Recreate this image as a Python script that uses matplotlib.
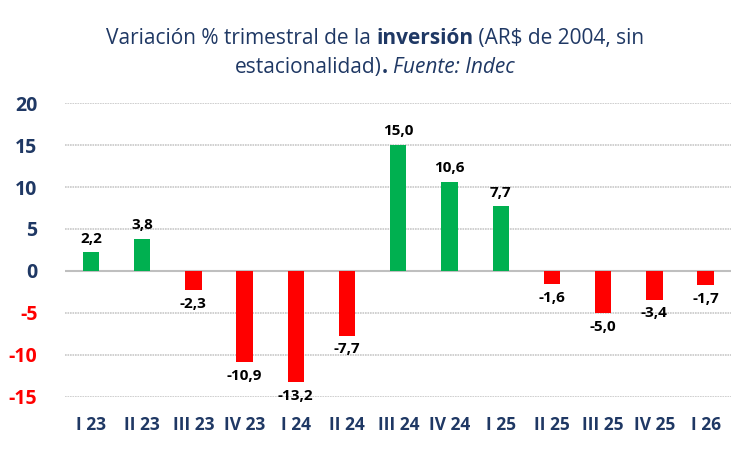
import matplotlib.pyplot as plt

quarters = ["I 23", "II 23", "III 23", "IV 23", "I 24", "II 24", "III 24",
            "IV 24", "I 25", "II 25", "III 25", "IV 25", "I 26"]
variation = [2.2, 3.8, -2.3, -10.9, -13.2, -7.7, 15.0, 10.6, 7.7, -1.6, -5.0, -3.4, -1.7]
yticks = [-15, -10, -5, 0, 5, 10, 15, 20]

navy = "#1F3864"
green = "#00B050"
red = "#FF0000"
plt.rcParams['font.family'] = ['Open Sans', 'DejaVu Sans']

fig = plt.figure(figsize=(7.5, 4.5), dpi=100)
ax = fig.add_axes([0.087, 0.118, 0.888, 0.653])

colors = [green if v >= 0 else red for v in variation]
x = range(len(quarters))
ax.bar(x, variation, width=0.32, color=colors, zorder=3)

for i, v in zip(x, variation):
    label = f"{v:.1f}".replace(".", ",")
    if v >= 0:
        ax.text(i, v + 0.8, label, ha='center', va='bottom', fontsize=11,
                fontweight='bold', color='black')
    else:
        ax.text(i, v - 0.8, label, ha='center', va='top', fontsize=11,
                fontweight='bold', color='black')

ax.set_xlim(-0.5, len(quarters) - 0.5)
ax.set_ylim(-15, 20)
ax.set_yticks(yticks)
ax.set_yticklabels([str(t) for t in yticks])
for lab, t in zip(ax.get_yticklabels(), yticks):
    lab.set_color(red if t < 0 else navy)
    lab.set_fontweight('bold')
    lab.set_fontsize(14)

ax.set_xticks(list(x))
ax.set_xticklabels(quarters, fontsize=12.5, fontweight='bold', color=navy)
ax.tick_params(axis='both', length=0)
ax.tick_params(axis='x', pad=14)
ax.tick_params(axis='y', pad=20)

ax.grid(axis='y', color='#C8C8C8', linewidth=1.2, linestyle=(0, (1, 0.5)), zorder=0)
ax.axhline(0, color='#BFBFBF', linewidth=1.5, zorder=2)
for s in ax.spines.values():
    s.set_visible(False)

# title built from runs of text so bold / italic parts keep the same font
def title_line(parts, y):
    renderer = fig.canvas.get_renderer()
    texts = []
    widths = []
    for s, w, st in parts:
        t = fig.text(0, y, s, fontsize=15, color=navy, fontweight=w, fontstyle=st,
                     va='center', ha='left')
        bb = t.get_window_extent(renderer)
        texts.append(t)
        widths.append(bb.width)
    total = sum(widths)
    xpos = (fig.bbox.width - total) / 2
    for t, w in zip(texts, widths):
        t.set_x(xpos / fig.bbox.width)
        xpos += w

title_line([("Variación % trimestral de la ", 'normal', 'normal'),
            ("inversión", 'bold', 'normal'),
            (" (AR$ de 2004, sin", 'normal', 'normal')], 0.914)
title_line([("estacionalidad)", 'normal', 'normal'),
            (". ", 'bold', 'normal'),
            ("Fuente: Indec", 'normal', 'italic')], 0.850)

fig.savefig("out.png", dpi=100)
